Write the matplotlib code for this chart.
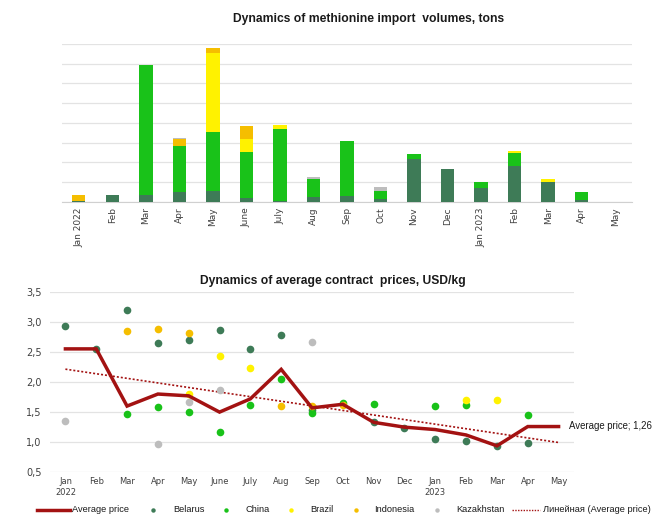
import numpy as np
import matplotlib
matplotlib.use("Agg")
import matplotlib.pyplot as plt
from matplotlib.lines import Line2D

plt.rcParams['font.family'] = ['DejaVu Sans']
SANS = ['Liberation Sans', 'DejaVu Sans']

# ---------------- data ----------------
months_top = ["Jan 2022", "Feb", "Mar", "Apr", "May", "June", "July", "Aug", "Sep",
              "Oct", "Nov", "Dec", "Jan 2023", "Feb", "Mar", "Apr", "May"]
months_bot = ["Jan\n2022", "Feb", "Mar", "Apr", "May", "June", "July", "Aug", "Sep",
              "Oct", "Nov", "Dec", "Jan\n2023", "Feb", "Mar", "Apr", "May"]

# import volumes (relative units, 100 per gridline)
vol_belarus    = [5, 34, 34, 47, 56, 17, 5, 22, 29, 12, 217, 164, 69, 181, 98, 8, 0]
vol_china      = [0, 0, 658, 237, 297, 237, 363, 93, 281, 44, 24, 0, 31, 64, 0, 42, 0]
vol_brazil     = [0, 0, 0, 0, 402, 64, 22, 0, 0, 0, 0, 0, 0, 14, 17, 0, 0]
vol_indonesia  = [28, 0, 0, 32, 25, 66, 0, 0, 0, 0, 0, 0, 0, 0, 0, 0, 0]
vol_kazakhstan = [0, 0, 0, 5, 0, 0, 0, 12, 0, 17, 0, 0, 0, 0, 0, 0, 0]

# prices, USD/kg (None = no contract)
avg_price = [2.55, 2.55, 1.60, 1.80, 1.77, 1.50, 1.72, 2.21, 1.57, 1.63, 1.33, 1.25,
             1.21, 1.12, 0.94, 1.26, 1.26]
price_belarus    = [2.93, 2.55, 3.20, 2.65, 2.70, 2.87, 2.55, 2.78, 1.53, None, 1.33, 1.24,
                    1.06, 1.02, 0.93, 0.98, None]
price_china      = [None, None, 1.47, 1.59, 1.50, 1.17, 1.62, 2.05, 1.49, 1.65, 1.64, None,
                    1.60, 1.61, None, 1.46, None]
price_brazil     = [None, None, None, None, 1.80, 2.43, 2.24, None, None, None, None, None,
                    None, 1.70, 1.70, None, None]
price_indonesia  = [None, None, 2.85, 2.88, 2.82, None, None, 1.60, 1.60, 1.61, None, None,
                    None, None, None, None, None]
price_kazakhstan = [1.35, None, None, 0.97, 1.66, 1.86, None, None, 2.66, None, None, None,
                    None, None, None, None, None]

c_belarus = "#3E7B57"
c_china = "#19C219"
c_brazil = "#FFF200"
c_indonesia = "#F5BE00"
c_kazakhstan = "#BDBDBD"
c_avg = "#A31212"
grid_c = "#E3E3E3"
tick_c = "#404040"

W, H = 654, 515
fig = plt.figure(figsize=(W/100, H/100), dpi=100)

def fx(px):
    return px / W

def fy(py):
    return 1 - py / H

# ---------------- top chart ----------------
ax1 = fig.add_axes([fx(62), fy(201.7), (632-62)/W, (201.7-44)/H])
x = np.arange(len(months_top))
bottom = np.zeros(len(x))
for vals, col in [(vol_belarus, c_belarus), (vol_china, c_china), (vol_brazil, c_brazil),
                  (vol_indonesia, c_indonesia), (vol_kazakhstan, c_kazakhstan)]:
    v = np.array(vals, dtype=float)
    ax1.bar(x, v, bottom=bottom, width=0.4, color=col, linewidth=0, zorder=3)
    bottom += v
ax1.set_xlim(-0.5, len(x) - 0.5)
ax1.set_ylim(0, 800)
ax1.set_yticks(np.arange(0, 801, 100))
ax1.set_yticklabels([])
ax1.tick_params(axis='y', length=0)
ax1.grid(axis='y', color=grid_c, linewidth=0.9, zorder=0)
ax1.set_xticks(x)
ax1.set_xticklabels(months_top, rotation=90, fontsize=6.5, color=tick_c)
ax1.tick_params(axis='x', length=0, pad=4)
for s in ['top', 'right', 'left']:
    ax1.spines[s].set_visible(False)
ax1.spines['bottom'].set_color("#D0D0D0")
fig.text(fx(233), fy(22), "Dynamics of methionine import  volumes, tons",
         ha='left', va='baseline', fontsize=8.7, fontweight='bold', color="#1A1A1A",
         family=SANS)

# ---------------- bottom chart ----------------
ax2 = fig.add_axes([fx(50), fy(472.3), (574-50)/W, (472.3-291.7)/H])
xb = np.arange(len(months_bot))

def pts(vals):
    xs = [i for i, v in enumerate(vals) if v is not None]
    ys = [v for v in vals if v is not None]
    return xs, ys

ms = 5.5
for vals, col in [(price_kazakhstan, c_kazakhstan), (price_belarus, c_belarus),
                  (price_china, c_china), (price_brazil, c_brazil),
                  (price_indonesia, c_indonesia)]:
    xs, ys = pts(vals)
    ax2.plot(xs, ys, 'o', color=col, markersize=ms, markeredgewidth=0, zorder=3)

coef = np.polyfit(xb, avg_price, 1)
ax2.plot(xb, np.polyval(coef, xb), linestyle=(0, (1.2, 1.2)), color=c_avg,
         linewidth=1.2, zorder=2)
ax2.plot(xb, avg_price, color=c_avg, linewidth=2.5, zorder=4, solid_joinstyle='miter')

ax2.set_xlim(-0.5, len(xb) - 0.5)
ax2.set_ylim(0.5, 3.5)
yt = np.arange(0.5, 3.51, 0.5)
ax2.set_yticks(yt)
ax2.set_yticklabels([f"{v:.1f}".replace('.', ',') for v in yt], fontsize=7, color=tick_c)
ax2.set_xticks(xb)
ax2.set_xticklabels(months_bot, fontsize=6, color=tick_c)
ax2.tick_params(length=0)
ax2.tick_params(axis='y', pad=6)
ax2.grid(axis='y', color=grid_c, linewidth=0.9, zorder=0)
for s in ['top', 'right', 'left', 'bottom']:
    ax2.spines[s].set_visible(False)
fig.text(fx(569), fy(426), "Average price; 1,26", fontsize=6.9, va='center', ha='left',
         color="#1A1A1A", family=SANS)
fig.text(fx(200), fy(284), "Dynamics of average contract  prices, USD/kg",
         ha='left', va='baseline', fontsize=8.7, fontweight='bold', color="#1A1A1A",
         family=SANS)

# ---------------- legend (manual layout) ----------------
ly = fy(510)
leg_fs = 6.7
fig.add_artist(Line2D([fx(37), fx(70)], [ly, ly], color=c_avg, linewidth=2.5))
fig.text(fx(72), ly, "Average price", fontsize=leg_fs, va='center', ha='left',
         color="#1A1A1A", family=SANS)
for dot_x, txt_x, col, lab in [(153, 173, c_belarus, "Belarus"),
                               (226, 245, c_china, "China"),
                               (291, 310, c_brazil, "Brazil"),
                               (356, 374, c_indonesia, "Indonesia"),
                               (437, 456, c_kazakhstan, "Kazakhstan")]:
    fig.add_artist(Line2D([fx(dot_x)], [ly], marker='o', linestyle='', color=col,
                          markersize=3.2, markeredgewidth=0))
    fig.text(fx(txt_x), ly, lab, fontsize=leg_fs, va='center', ha='left',
             color="#1A1A1A", family=SANS)
fig.add_artist(Line2D([fx(512), fx(540)], [ly, ly], color=c_avg, linewidth=1.0,
                      linestyle=(0, (1, 1))))
fig.text(fx(543), ly, "Линейная (Average price)", fontsize=leg_fs, va='center', ha='left',
         color="#1A1A1A", family=SANS)

fig.savefig("out.png", dpi=100)
